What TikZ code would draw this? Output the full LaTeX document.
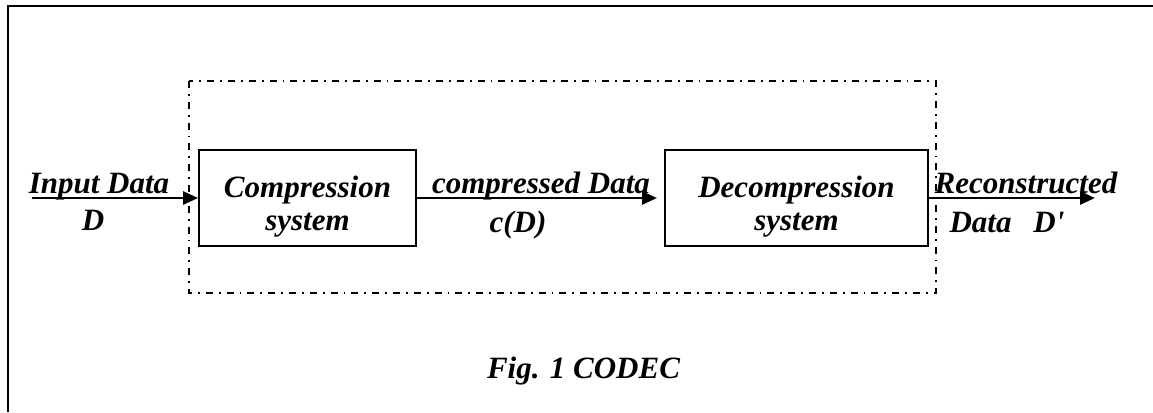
\documentclass[tikz,border=0pt]{standalone}
\usepackage{fontspec}
\setmainfont{Liberation Serif}
\usetikzlibrary{arrows.meta}
\begin{document}
\begin{tikzpicture}[x=1pt,y=-1pt,
  lbl/.style={font=\fontsize{31}{36}\selectfont\bfseries\itshape, inner sep=0pt, anchor=base},
  blk/.style={draw, line width=1.8pt, minimum height=96pt, inner sep=0pt},
  flow/.style={line width=2.8pt, -{Triangle[length=15pt,width=13pt]}},
  dashdot/.style={line width=1.5pt, dash pattern=on 7pt off 6pt on 1.8pt off 6pt}]
\useasboundingbox (0,0) rectangle (1153,412);
% outer frame (left and top edges)
\draw[line width=2pt] (7.5,412) -- (7.5,6) -- (1153,6);
% dash-dot enclosure
\draw[dashdot] (189,81) rectangle (936,293);
% blocks
\node[blk, minimum width=217pt] (comp) at (307.5,198) {};
\node[blk, minimum width=263pt] (dec) at (796.5,198) {};
% connector end points
\coordinate (in) at (32,198);
\coordinate (midtip) at (657,198);
\coordinate (out) at (1095,198);
% arrows
\draw[flow] (in) -- (comp.west);
\draw[flow] (comp.east) -- (midtip);
\draw[flow] (dec.east) -- (out);
% labels
\node[lbl] (inl) at (99,193) {Input Data};
\node[lbl] (inD) at (93,230) {D};
\node[lbl] (c1) at (307.5,197) {Compression};
\node[lbl] (c2) at (307.5,230) {system};
\node[lbl] (d1) at (796.5,197) {Decompression};
\node[lbl] (d2) at (796.5,230) {system};
\node[lbl] (cdl) at (541,193) {compressed Data};
\node[lbl] (cD) at (518,232) {c(D)};
\node[lbl] (rl) at (1026,193) {Reconstructed};
\node[lbl] (rD) at (1007,232) {Data\hspace{22pt}D\textquotesingle};
\node[lbl] (fig) at (583.5,378) {Fig. 1 CODEC};
\end{tikzpicture}
\end{document}
